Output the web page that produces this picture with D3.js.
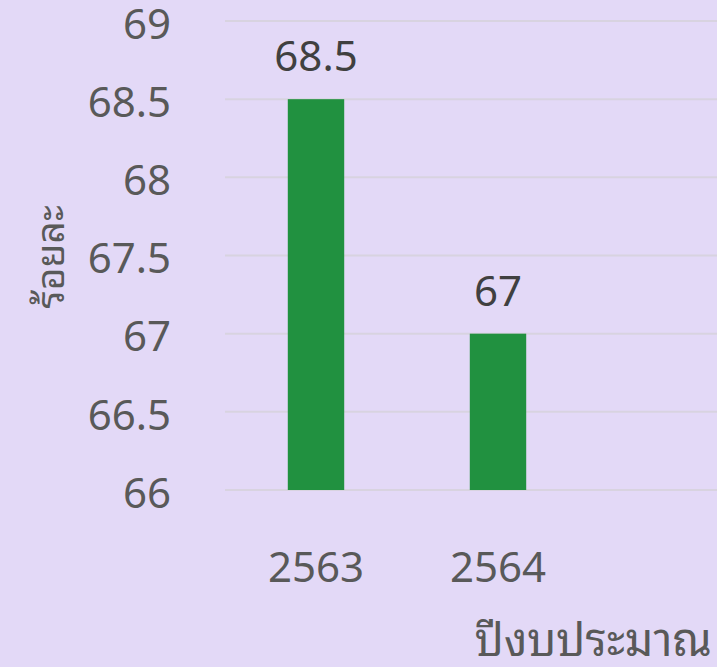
<!DOCTYPE html>
<html>
<head>
<meta charset="utf-8">
<script src="https://cdn.jsdelivr.net/npm/d3@7"></script>
<style>
body { margin: 0; background: #e3d9f7; }
svg { display: block; font-family: "Noto Sans", "Noto Sans Thai Looped", "Noto Sans Thai", Tahoma, sans-serif; }
</style>
</head>
<body>
<div id="chart"></div>
<script>
var years = ["2563", "2564"];
var values = [68.5, 67];
var yTicks = [66, 66.5, 67, 67.5, 68, 68.5, 69];
var xTitle = "ปีงบประมาณ";
var yTitle = "ร้อยละ";

var width = 717, height = 667;

var svg = d3.select("#chart")
	.append("svg")
	.attr("width", width)
	.attr("height", height);

svg.append("rect")
	.attr("width", width)
	.attr("height", height)
	.attr("fill", "#e3d9f7");

var y = d3.scaleLinear()
	.domain([66, 69])
	.range([490, 21]);

var x = d3.scaleBand()
	.domain(years)
	.range([225, 589])
	.paddingInner(0.69)
	.paddingOuter(0.345);

// gridlines
svg.append("g")
	.selectAll("line")
	.data(yTicks)
	.enter()
	.append("line")
	.attr("x1", 225)
	.attr("x2", width)
	.attr("y1", function(d) { return y(d); })
	.attr("y2", function(d) { return y(d); })
	.attr("stroke", "#d8d3e0")
	.attr("stroke-width", 2);

// y tick labels
svg.append("g")
	.selectAll("text")
	.data(yTicks)
	.enter()
	.append("text")
	.attr("x", 171)
	.attr("y", function(d) { return y(d) + 3; })
	.attr("dy", "0.35em")
	.attr("text-anchor", "end")
	.attr("font-size", 42)
	.attr("fill", "#595959")
	.text(function(d) { return d; });

// bars
svg.append("g")
	.selectAll("rect")
	.data(values)
	.enter()
	.append("rect")
	.attr("x", function(d, i) { return x(years[i]); })
	.attr("width", x.bandwidth())
	.attr("y", function(d) { return y(d); })
	.attr("height", function(d) { return y(66) - y(d); })
	.attr("fill", "#219140");

// value labels
svg.append("g")
	.selectAll("text")
	.data(values)
	.enter()
	.append("text")
	.attr("x", function(d, i) { return x(years[i]) + x.bandwidth() / 2; })
	.attr("y", function(d) { return y(d) - 28; })
	.attr("text-anchor", "middle")
	.attr("font-size", 42)
	.attr("fill", "#404040")
	.text(function(d) { return d; });

// x labels
svg.append("g")
	.selectAll("text")
	.data(years)
	.enter()
	.append("text")
	.attr("x", function(d) { return x(d) + x.bandwidth() / 2; })
	.attr("y", 582)
	.attr("text-anchor", "middle")
	.attr("font-size", 42)
	.attr("fill", "#595959")
	.text(function(d) { return d; });

// axis titles
svg.append("text")
	.attr("x", 712)
	.attr("y", 656)
	.attr("text-anchor", "end")
	.attr("font-size", 45)
	.attr("fill", "#595959")
	.text(xTitle);

svg.append("text")
	.attr("transform", "translate(64,257) rotate(-90)")
	.attr("text-anchor", "middle")
	.attr("font-size", 39)
	.attr("fill", "#595959")
	.text(yTitle);
</script>
</body>
</html>
